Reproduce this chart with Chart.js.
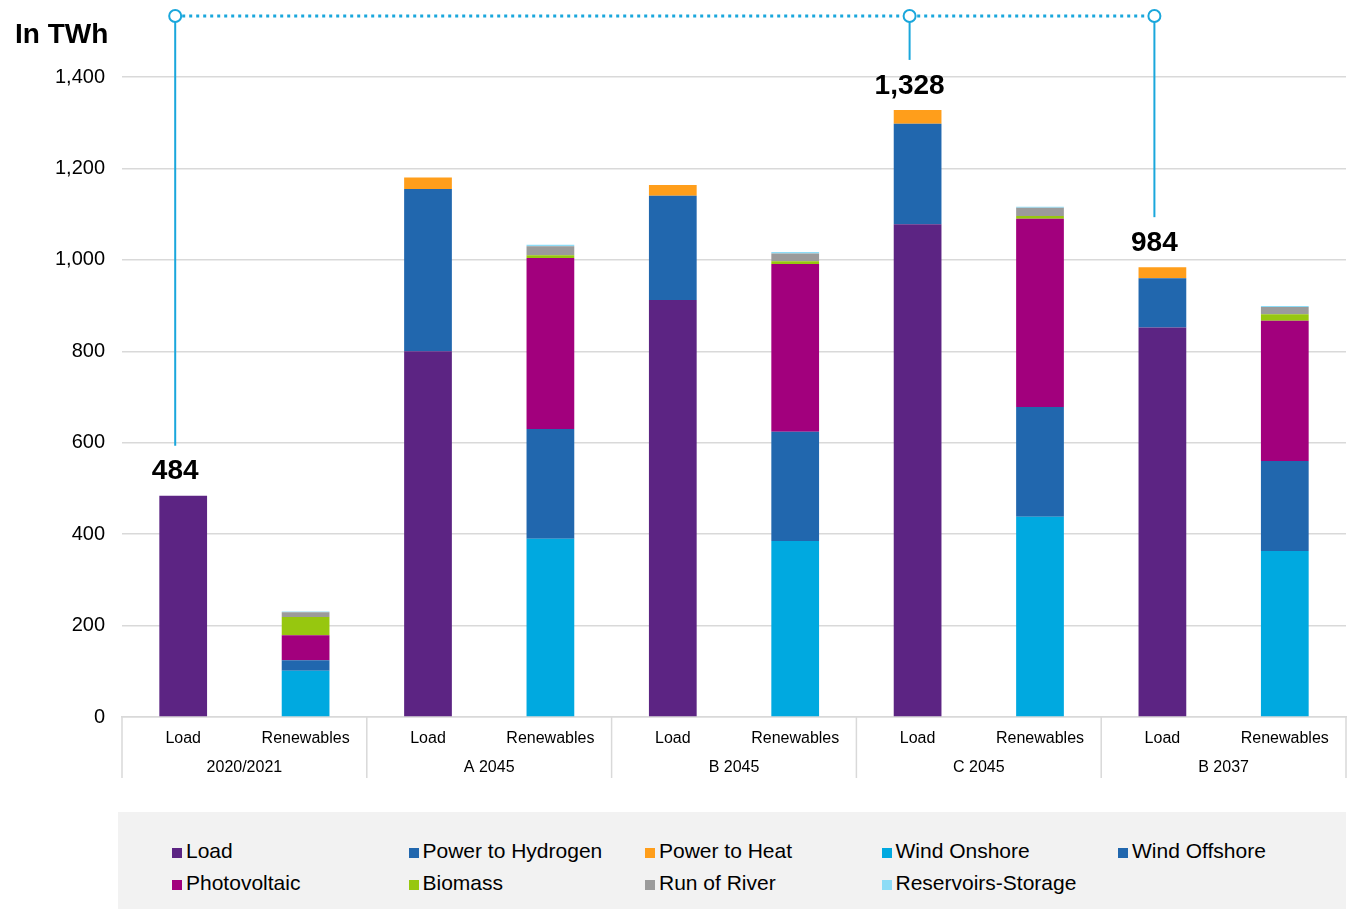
<!DOCTYPE html>
<html lang="en">
<head>
    <meta charset="UTF-8" />
    <title>Load and renewables</title>
    <style>
        body {
            margin: 0;
            background: #fff;
            font-family: "Liberation Sans", Arial, sans-serif;
            overflow: hidden;
        }

        #wrap {
            position: relative;
            width: 1353px;
            height: 909px;
        }

        #chart {
            position: absolute;
            left: 0;
            top: 0;
        }

        #legend {
            position: absolute;
            left: 118px;
            top: 812px;
            width: 1228px;
            height: 97px;
            background: #f2f2f2;
        }

        .item {
            position: absolute;
            font-size: 21px;
            color: #000;
            line-height: 21px;
            white-space: nowrap;
        }

        .item span {
            display: inline-block;
            width: 10px;
            height: 10px;
            margin-right: 4px;
        }
    </style>
    <script src="https://cdn.jsdelivr.net/npm/chart.js"></script>
</head>

<body>
    <div id="wrap">
        <canvas id="chart" width="1353" height="800"></canvas>
        <div id="legend"></div>
    </div>

    <script>
        // scenarios, two bars each
        const groups = ["2020/2021", "A 2045", "B 2045", "C 2045", "B 2037"];
        const barKinds = ["Load", "Renewables"];

        // TWh per scenario
        const load = [484, 800, 912, 1078, 852];
        const powerToHydrogen = [0, 355, 228, 220, 108];
        const powerToHeat = [0, 25, 24, 30, 24];
        const windOnshore = [101, 390, 385, 438, 363];
        const windOffshore = [23, 240, 239, 240, 197];
        const photovoltaic = [55, 374, 367, 412, 307];
        const biomass = [40, 6, 6, 6, 14];
        const runOfRiver = [10, 20, 17, 18, 16];
        const reservoirs = [2, 3, 3, 2, 2];

        // scenarios whose load total is marked on top
        const markedGroups = [0, 3, 4];

        const yTicks = [0, 200, 400, 600, 800, 1000, 1200, 1400];

        const FONT = "'Liberation Sans', Arial, sans-serif";
        const BRACKET = "#1aa7dc";

        const labels = [];
        groups.forEach(g => barKinds.forEach(k => labels.push(k)));

        // spread a per-scenario array onto the Load (0) or Renewables (1) bar
        function onBar(values, kind) {
            const out = [];
            values.forEach(v => {
                out.push(kind === 0 ? v : null);
                out.push(kind === 1 ? v : null);
            });
            return out;
        }

        const series = [
            { label: "Load", values: load, kind: 0, color: "#5c2483" },
            { label: "Power to Hydrogen", values: powerToHydrogen, kind: 0, color: "#2167ae" },
            { label: "Power to Heat", values: powerToHeat, kind: 0, color: "#ff9e1b" },
            { label: "Wind Onshore", values: windOnshore, kind: 1, color: "#00a9e0" },
            { label: "Wind Offshore", values: windOffshore, kind: 1, color: "#2167ae" },
            { label: "Photovoltaic", values: photovoltaic, kind: 1, color: "#a2007d" },
            { label: "Biomass", values: biomass, kind: 1, color: "#97c70f" },
            { label: "Run of River", values: runOfRiver, kind: 1, color: "#9b9b9b" },
            { label: "Reservoirs-Storage", values: reservoirs, kind: 1, color: "#8ddcf6" }
        ];

        const datasets = series.map(s => ({
            label: s.label,
            data: onBar(s.values, s.kind),
            backgroundColor: s.color,
            borderWidth: 0,
            categoryPercentage: 1,
            barPercentage: 0.39
        }));

        const extras = {
            id: "extras",
            afterDraw(chart) {
                const ctx = chart.ctx;
                const x = chart.scales.x;
                const y = chart.scales.y;
                const area = chart.chartArea;

                ctx.save();

                // y axis title
                ctx.fillStyle = "#000";
                ctx.font = "bold 28px " + FONT;
                ctx.textAlign = "left";
                ctx.textBaseline = "middle";
                ctx.fillText("In TWh", 15, 35);

                // group separators and group labels
                ctx.strokeStyle = "#d9d9d9";
                ctx.lineWidth = 1.5;
                const bounds = [area.left];
                for (let i = 1; i < groups.length; i++) {
                    bounds.push((x.getPixelForValue(i * 2 - 1) + x.getPixelForValue(i * 2)) / 2);
                }
                bounds.push(area.right);
                bounds.forEach(b => {
                    ctx.beginPath();
                    ctx.moveTo(b, area.bottom);
                    ctx.lineTo(b, area.bottom + 61);
                    ctx.stroke();
                });
                ctx.font = "16px " + FONT;
                ctx.textAlign = "center";
                groups.forEach((g, i) => {
                    ctx.fillText(g, (bounds[i] + bounds[i + 1]) / 2, area.bottom + 51);
                });

                // totals with bracket
                const lineY = 16;
                const points = markedGroups.map(i => {
                    const total = load[i] + powerToHydrogen[i] + powerToHeat[i];
                    return { x: x.getPixelForValue(i * 2) - 8, top: y.getPixelForValue(total), total: total };
                });

                ctx.strokeStyle = BRACKET;
                ctx.lineWidth = 3;
                ctx.setLineDash([3, 4]);
                ctx.beginPath();
                ctx.moveTo(points[0].x, lineY);
                ctx.lineTo(points[points.length - 1].x, lineY);
                ctx.stroke();
                ctx.setLineDash([]);

                ctx.lineWidth = 2;
                points.forEach(p => {
                    ctx.beginPath();
                    ctx.moveTo(p.x, lineY);
                    ctx.lineTo(p.x, p.top - 50);
                    ctx.stroke();
                    ctx.beginPath();
                    ctx.arc(p.x, lineY, 6, 0, Math.PI * 2);
                    ctx.fillStyle = "#fff";
                    ctx.fill();
                    ctx.stroke();

                    ctx.fillStyle = "#000";
                    ctx.font = "bold 28px " + FONT;
                    ctx.fillText(p.total.toLocaleString("en-US"), p.x, p.top - 24);
                });

                ctx.restore();
            }
        };

        new Chart(document.getElementById("chart"), {
            type: "bar",
            data: { labels: labels, datasets: datasets },
            options: {
                responsive: false,
                animation: false,
                layout: { padding: { top: 77, right: 7, left: 0, bottom: 0 } },
                plugins: {
                    legend: { display: false },
                    tooltip: { enabled: false }
                },
                scales: {
                    x: {
                        stacked: true,
                        grid: { display: false },
                        border: { display: true, color: "#d9d9d9", width: 1.5 },
                        ticks: {
                            color: "#000",
                            font: { family: FONT, size: 16 },
                            padding: 4,
                            maxRotation: 0,
                            autoSkip: false
                        },
                        afterFit(scale) { scale.height = 83; }
                    },
                    y: {
                        stacked: true,
                        min: 0,
                        max: 1400,
                        afterBuildTicks(scale) { scale.ticks = yTicks.map(v => ({ value: v })); },
                        grid: { color: "#d9d9d9", lineWidth: 1.5, drawTicks: false },
                        border: { display: false },
                        ticks: {
                            color: "#000",
                            font: { family: FONT, size: 20 },
                            padding: 17,
                            callback: v => v.toLocaleString("en-US")
                        },
                        afterFit(scale) { scale.width = 122; }
                    }
                }
            },
            plugins: [extras]
        });

        // legend in five columns, two rows
        const legend = document.getElementById("legend");
        series.forEach((s, i) => {
            const col = i % 5;
            const row = Math.floor(i / 5);
            const div = document.createElement("div");
            div.className = "item";
            div.style.left = (54 + col * 236.5) + "px";
            div.style.top = (28 + row * 32) + "px";
            div.innerHTML = '<span style="background:' + s.color + '"></span>' + s.label;
            legend.appendChild(div);
        });
    </script>
</body>
</html>
